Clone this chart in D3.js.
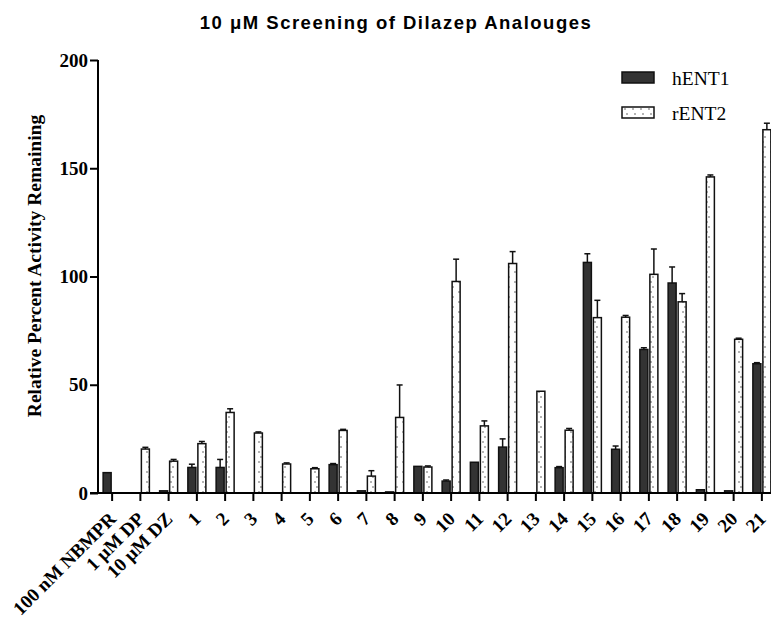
<!DOCTYPE html>
<html lang="en">
<head>
<meta charset="utf-8">
<script src="https://cdnjs.cloudflare.com/ajax/libs/d3/7.8.5/d3.min.js"></script>
<style>
    body { margin: 0; background: #fff; }
    svg { display: block; }
    .title { font-family: 'Liberation Sans', Arial, sans-serif; font-weight: bold; font-size: 18.5px; }
    .serif { font-family: 'Liberation Serif', 'Times New Roman', serif; }
</style>
</head>
<body>
<svg></svg>
<script>
const categories = ['100 nM NBMPR', '1 \u03bcM DP', '10 \u03bcM DZ', '1', '2', '3', '4', '5', '6', '7', '8', '9', '10',
    '11', '12', '13', '14', '15', '16', '17', '18', '19', '20', '21']
const hENT1 = [9.4, 0, 1, 11.8, 11.8, 0, 0, 0, 13.1, 1, 0.5, 12.3, 5.5, 14.2, 21.2, 0, 11.7, 106.5, 20.2, 66.3, 97, 1.5, 1, 59.7]
const hENT1Err = [0, 0, 0, 1.5, 3.7, 0, 0, 0, 0.5, 0, 0, 0, 0.5, 0, 3.8, 0, 0.5, 4, 1.5, 0.8, 7.4, 0, 0, 0.5]
const rENT2 = [0, 20.3, 14.7, 22.8, 37.2, 27.7, 13.4, 11.2, 28.9, 7.8, 34.9, 12, 97.7, 31, 106, 47, 29, 81, 81.2, 101, 88.3, 146, 71, 167.8]
const rENT2Err = [0, 0.8, 0.8, 1, 1.7, 0.5, 0.5, 0.5, 0.5, 2.5, 15, 0.5, 10.3, 2.3, 5.5, 0, 0.8, 8, 0.8, 11.7, 3.8, 0.9, 0.5, 3]
const yTicks = [0, 50, 100, 150, 200]

const w = 771, h = 624
const padLeft = 98, padBottom = 493, padTop = 60
const barW = 8

const svg = d3.select('svg').attr('width', w).attr('height', h)

// dotted fill for rENT2
const pat = svg.append('defs').append('pattern')
    .attr('id', 'dots').attr('patternUnits', 'userSpaceOnUse')
    .attr('width', 8).attr('height', 10)
pat.append('rect').attr('width', 8).attr('height', 10).attr('fill', '#fff')
pat.append('circle').attr('cx', 3).attr('cy', 2).attr('r', 0.8).attr('fill', '#555')
pat.append('circle').attr('cx', 5).attr('cy', 7).attr('r', 0.8).attr('fill', '#555')

const x = d3.scaleBand().domain(categories).range([padLeft, padLeft + categories.length * 28.25])
const y = d3.scaleLinear().domain([0, 200]).range([padBottom, padTop])

svg.append('text').attr('class', 'title')
    .attr('x', 396).attr('y', 29).attr('text-anchor', 'middle')
    .attr('letter-spacing', 1.5)
    .text('10 \u03bcM Screening of Dilazep Analouges')

const series = [
    { vals: hENT1, err: hENT1Err, dx: -barW - 1, fill: '#333' },
    { vals: rENT2, err: rENT2Err, dx: 1, fill: 'url(#dots)' }
]

series.forEach(s => {
    const cx = (i) => x(categories[i]) + x.bandwidth() / 2 + s.dx
    const idx = d3.range(categories.length).filter(i => s.vals[i] > 0)
    svg.append('g').selectAll('rect')
        .data(idx)
        .enter()
        .append('rect')
        .attr('x', i => cx(i))
        .attr('y', i => y(s.vals[i]))
        .attr('width', barW)
        .attr('height', i => padBottom - y(s.vals[i]))
        .attr('fill', s.fill)
        .attr('stroke', '#111')
        .attr('stroke-width', 1.5)
    const eb = svg.append('g').attr('stroke', '#111').attr('stroke-width', 1.5)
    idx.filter(i => s.err[i] > 0).forEach(i => {
        const mx = cx(i) + barW / 2
        eb.append('line').attr('x1', mx).attr('x2', mx)
            .attr('y1', y(s.vals[i])).attr('y2', y(s.vals[i] + s.err[i]))
        eb.append('line').attr('x1', mx - 3).attr('x2', mx + 3)
            .attr('y1', y(s.vals[i] + s.err[i])).attr('y2', y(s.vals[i] + s.err[i]))
    })
})

// axes
const yAxis = d3.axisLeft(y).tickValues(yTicks).tickSize(8).tickPadding(2)
const gy = svg.append('g').attr('transform', 'translate(' + padLeft + ',0)').call(yAxis)
gy.selectAll('path, line').attr('stroke', '#000').attr('stroke-width', 2)
gy.select('.domain').attr('d', 'M0,' + padTop + 'V' + padBottom)
gy.selectAll('text').attr('class', 'serif').attr('font-size', 19).attr('font-weight', 'bold').attr('fill', '#000')

const xAxis = d3.axisBottom(x).tickSize(8).tickSizeOuter(0)
const gx = svg.append('g').attr('transform', 'translate(0,' + padBottom + ')').call(xAxis)
gx.selectAll('path, line').attr('stroke', '#000').attr('stroke-width', 2)
gx.select('.domain').attr('d', 'M' + (padLeft - 8) + ',0H' + (w + 5))
gx.selectAll('text')
    .attr('class', 'serif').attr('font-size', 19).attr('font-weight', 'bold').attr('fill', '#000')
    .attr('text-anchor', 'end')
    .attr('dy', null).attr('y', 0)
    .attr('transform', 'translate(5,27) rotate(-45)')

svg.append('text').attr('class', 'serif')
    .attr('transform', 'translate(41,266) rotate(-90)')
    .attr('text-anchor', 'middle').attr('font-size', 19.5).attr('font-weight', 'bold')
    .text('Relative Percent Activity Remaining')

// legend
const legend = [{ name: 'hENT1', fill: '#333' }, { name: 'rENT2', fill: 'url(#dots)' }]
const lg = svg.append('g').selectAll('g').data(legend).enter().append('g')
    .attr('transform', (d, i) => 'translate(622,' + (72 + i * 35) + ')')
lg.append('rect').attr('width', 32).attr('height', 11).attr('fill', d => d.fill)
    .attr('stroke', '#111').attr('stroke-width', 1.5)
lg.append('text').attr('class', 'serif').attr('x', 50).attr('y', 13).attr('font-size', 19.5)
    .text(d => d.name)
</script>
</body>
</html>
